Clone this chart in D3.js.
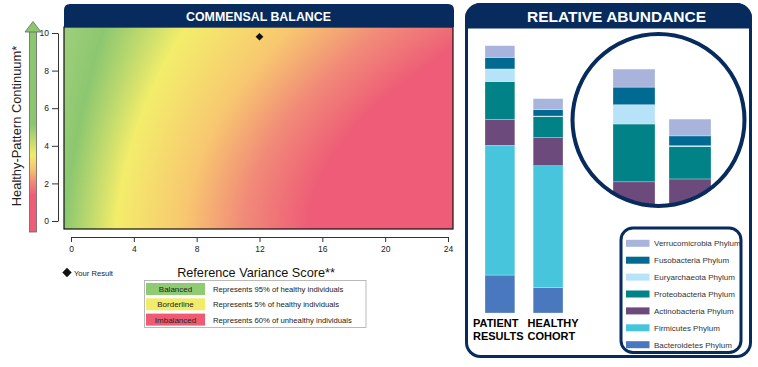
<!DOCTYPE html>
<html>
<head>
<meta charset="utf-8">
<script src="https://cdn.jsdelivr.net/npm/d3@7/dist/d3.min.js"></script>
<style>
  body { margin: 0; background: #fff; }
  text { font-family: Arial, "Liberation Sans", sans-serif; }
</style>
</head>
<body>
<svg id="chart" width="758" height="367"></svg>
<script>
// ---- data ----
const xTicks = [0, 4, 8, 12, 16, 20, 24];
const yTicks = [0, 2, 4, 6, 8, 10];
const resultScore = 12;
const resultContinuum = 9.8;

// background shading stops (balance value -> colour)
const balanceStops = [-2, 0, 3.3, 7.6, 11.4, 15.6];
const balanceColors = ['#a4d07c', '#8cc770', '#f3ed6b', '#f8c770', '#f18a78', '#ee5c77'];

const zoneNames = ['Balanced', 'Borderline', 'Imbalanced'];
const zoneColors = ['#8fcb72', '#f2ec6b', '#ef5b73'];
const zoneText = ['Represents 95% of healthy individuals',
                  'Represents 5% of healthy individuals',
                  'Represents 60% of unhealthy individuals'];

const groups = ['PATIENT RESULTS', 'HEALTHY COHORT'];
const phyla = ['Bacteroidetes Phylum', 'Firmicutes Phylum', 'Actinobacteria Phylum',
               'Proteobacteria Phylum', 'Euryarchaeota Phylum', 'Fusobacteria Phylum',
               'Verrucomicrobia Phylum'];
const phylaColors = ['#4a78be', '#47c5dc', '#6d4a7c', '#008286', '#b6e3f7', '#006a93', '#a9b4dc'];
const patient = [14.2, 48.5, 9.8, 14.1, 4.7, 4.3, 4.4];
const healthy = [9.6, 45.5, 10.5, 7.9, 0.2, 2.4, 4.1];

const navy = '#062b5c';
const svg = d3.select('#chart');

// ================= COMMENSAL BALANCE =================
const x = d3.scaleLinear().domain([0, 24]).range([71, 448]);
const y = d3.scaleLinear().domain([0, 10]).range([221, 33]);
const plot = {x0: 64, x1: 453, y0: 27, y1: 229};

const shade = d3.scaleLinear().domain(balanceStops).range(balanceColors).clamp(true);

// paint the shaded field pixel by pixel on a canvas, then drop it in as an image
// (bands bend to the right and widen towards the top of the continuum)
const cw = plot.x1 - plot.x0, ch = plot.y1 - plot.y0;
const canvas = document.createElement('canvas');
canvas.width = cw; canvas.height = ch;
const ctx = canvas.getContext('2d');
const img = ctx.createImageData(cw, ch);
for (let j = 0; j < ch; j++) {
  const c = y.invert(plot.y0 + j + 0.5);
  const shift = -0.4 + 0.12 * c + 0.012 * c * c;
  const stretch = 1 + 0.0054 * c * c;
  for (let i = 0; i < cw; i++) {
    const s = x.invert(plot.x0 + i + 0.5);
    const col = d3.rgb(shade((s - shift) / stretch));
    const k = (j * cw + i) * 4;
    img.data[k] = col.r; img.data[k + 1] = col.g; img.data[k + 2] = col.b; img.data[k + 3] = 255;
  }
}
ctx.putImageData(img, 0, 0);

svg.append('image')
    .attr('x', plot.x0).attr('y', plot.y0)
    .attr('width', cw).attr('height', ch)
    .attr('href', canvas.toDataURL());

svg.append('rect')
    .attr('x', plot.x0).attr('y', plot.y0)
    .attr('width', cw).attr('height', ch)
    .attr('fill', 'none').attr('stroke', '#111').attr('stroke-width', 1.2);

// header with rounded top corners
const hr = 6;
svg.append('path')
    .attr('d', `M${plot.x0},27 V${4 + hr} Q${plot.x0},4 ${plot.x0 + hr},4 H${plot.x1 + 1 - hr} Q${plot.x1 + 1},4 ${plot.x1 + 1},${4 + hr} V27 Z`)
    .attr('fill', navy);
svg.append('text')
    .attr('x', (plot.x0 + plot.x1) / 2).attr('y', 20.5)
    .attr('text-anchor', 'middle')
    .attr('fill', '#fff').attr('font-weight', 'bold').attr('font-size', 12.4)
    .text('COMMENSAL BALANCE');

// axes
const yAxis = svg.append('g')
    .attr('transform', 'translate(58,0)')
    .call(d3.axisLeft(y).tickValues(yTicks).tickSize(6).tickSizeOuter(0).tickPadding(3));
const xAxis = svg.append('g')
    .attr('transform', 'translate(0,237)')
    .call(d3.axisBottom(x).tickValues(xTicks).tickSize(5).tickSizeOuter(0).tickPadding(4));
[yAxis, xAxis].forEach(a => {
  a.selectAll('path, line').attr('stroke', '#333');
  a.selectAll('text').attr('font-size', 8.5).attr('fill', '#222')
      .attr('font-family', 'Arial, "Liberation Sans", sans-serif');
});

// result marker
svg.append('path')
    .attr('d', d3.symbol().type(d3.symbolDiamond2).size(38)())
    .attr('transform', `translate(${x(resultScore)},${y(resultContinuum)})`)
    .attr('fill', '#111');

// vertical colour bar with arrow
const defs = svg.append('defs');
const vg = defs.append('linearGradient').attr('id', 'vbar')
    .attr('x1', 0).attr('y1', 0).attr('x2', 0).attr('y2', 1);
[[0, '#8cc770'], [0.47, '#8cc770'], [0.62, '#f2ec6c'], [0.69, '#f7c26f'],
 [0.75, '#f08b79'], [0.82, '#ee5c77'], [1, '#ee5c77']]
  .forEach(([o, c]) => vg.append('stop').attr('offset', o).attr('stop-color', c));
svg.append('rect')
    .attr('x', 29.5).attr('y', 30).attr('width', 7).attr('height', 202)
    .attr('fill', 'url(#vbar)').attr('stroke', '#666').attr('stroke-width', 0.8);
svg.append('path')
    .attr('d', 'M25,32 L33,21.5 L41,32 Z')
    .attr('fill', '#8cc770').attr('stroke', '#666').attr('stroke-width', 0.8);

svg.append('text')
    .attr('transform', 'translate(20.5,126) rotate(-90)')
    .attr('text-anchor', 'middle')
    .attr('font-size', 12.9).attr('fill', '#222')
    .text('Healthy-Pattern Continuum*');

svg.append('text')
    .attr('x', 256).attr('y', 277)
    .attr('text-anchor', 'middle')
    .attr('font-size', 12.7).attr('fill', '#111')
    .text('Reference Variance Score**');

svg.append('path')
    .attr('d', d3.symbol().type(d3.symbolDiamond2).size(56)())
    .attr('transform', 'translate(67,272.5)')
    .attr('fill', '#111');
svg.append('text')
    .attr('x', 74).attr('y', 275.5)
    .attr('font-size', 7.6).attr('fill', '#222')
    .text('Your Result');

// zone legend
const zl = svg.append('g');
zl.append('rect')
    .attr('x', 144.5).attr('y', 280.5).attr('width', 221.5).attr('height', 47)
    .attr('fill', '#fff').attr('stroke', '#aaa').attr('stroke-width', 0.8);
const zoneRow = zl.selectAll('g.zone').data(zoneNames).join('g')
    .attr('class', 'zone')
    .attr('transform', (d, i) => `translate(146,${283 + i * 15.3})`);
zoneRow.append('rect')
    .attr('width', 59).attr('height', 12)
    .attr('fill', (d, i) => zoneColors[i]);
zoneRow.append('text')
    .attr('x', 29.5).attr('y', 9)
    .attr('text-anchor', 'middle')
    .attr('font-size', 8).attr('fill', '#222')
    .text(d => d);
zoneRow.append('text')
    .attr('x', 67).attr('y', 9)
    .attr('font-size', 7.7).attr('fill', '#222')
    .text((d, i) => zoneText[i]);

// ================= RELATIVE ABUNDANCE =================
const panel = {x0: 466.5, y0: 4.5, x1: 750.5, y1: 356.5, r: 14};
svg.append('rect')
    .attr('x', panel.x0).attr('y', panel.y0)
    .attr('width', panel.x1 - panel.x0).attr('height', panel.y1 - panel.y0)
    .attr('rx', panel.r)
    .attr('fill', '#fff').attr('stroke', navy).attr('stroke-width', 3);
svg.append('path')
    .attr('d', `M${panel.x0},27 V${panel.y0 + panel.r} A${panel.r},${panel.r} 0 0 1 ${panel.x0 + panel.r},${panel.y0} H${panel.x1 - panel.r} A${panel.r},${panel.r} 0 0 1 ${panel.x1},${panel.y0 + panel.r} V27 Z`)
    .attr('fill', navy).attr('stroke', navy).attr('stroke-width', 3);
svg.append('text')
    .attr('x', (panel.x0 + panel.x1) / 2 + 8).attr('y', 22)
    .attr('text-anchor', 'middle')
    .attr('fill', '#fff').attr('font-weight', 'bold').attr('font-size', 15.5)
    .text('RELATIVE ABUNDANCE');

const rows = groups.map((g, gi) => {
  const vals = gi === 0 ? patient : healthy;
  const r = {group: g};
  phyla.forEach((p, i) => r[p] = vals[i]);
  return r;
});
const color = d3.scaleOrdinal().domain(phyla).range(phylaColors);

// main stacked bars
const xb = d3.scaleBand().domain(groups).range([485, 563]).paddingInner(0.38);
const yb = d3.scaleLinear().domain([0, 100]).range([313, 45.7]);
const series = d3.stack().keys(phyla)(rows);
svg.append('g').selectAll('g').data(series).join('g')
    .attr('fill', d => color(d.key))
  .selectAll('rect').data(d => d).join('rect')
    .attr('x', d => xb(d.data.group))
    .attr('width', xb.bandwidth())
    .attr('y', d => yb(d[1]))
    .attr('height', d => yb(d[0]) - yb(d[1]))
    .attr('stroke', 'rgba(255,255,255,0.55)').attr('stroke-width', 0.5);

// group labels, two lines each
const labelX = [473, 527.5];
svg.append('g').selectAll('text').data(groups).join('text')
    .attr('x', (d, i) => labelX[i]).attr('y', 327)
    .attr('font-weight', 'bold').attr('font-size', 11).attr('fill', '#000')
    .each(function(d) {
      const [a, b] = d.split(' ');
      const t = d3.select(this);
      t.append('tspan').attr('x', t.attr('x')).text(a);
      t.append('tspan').attr('x', t.attr('x')).attr('dy', 12.5).text(b);
    });

// magnified view of the minor phyla inside the circle
const circ = {cx: 658.5, cy: 120, r: 86};
defs.append('clipPath').attr('id', 'lens')
  .append('circle').attr('cx', circ.cx).attr('cy', circ.cy).attr('r', circ.r);
const minor = phyla.slice(2);
const xz = d3.scaleBand().domain(groups).range([613, 711]).paddingInner(0.25);
const yz = d3.scaleLinear().domain([0, 40]).range([222, 58]);
const zSeries = d3.stack().keys(minor)(rows);
svg.append('g').attr('clip-path', 'url(#lens)')
  .selectAll('g').data(zSeries).join('g')
    .attr('fill', d => color(d.key))
  .selectAll('rect').data(d => d).join('rect')
    .attr('x', d => xz(d.data.group))
    .attr('width', xz.bandwidth())
    .attr('y', d => yz(d[1]))
    .attr('height', d => yz(d[0]) - yz(d[1]) + (d[0] === 0 ? 30 : 0))
    .attr('stroke', 'rgba(255,255,255,0.55)').attr('stroke-width', 0.5);
svg.append('circle')
    .attr('cx', circ.cx).attr('cy', circ.cy).attr('r', circ.r)
    .attr('fill', 'none').attr('stroke', navy).attr('stroke-width', 4);

// phylum legend
svg.append('rect')
    .attr('x', 621).attr('y', 228).attr('width', 120).attr('height', 124.5)
    .attr('rx', 12)
    .attr('fill', '#fff').attr('stroke', navy).attr('stroke-width', 3);
const legendOrder = phyla.slice().reverse();
const li = svg.append('g').selectAll('g').data(legendOrder).join('g')
    .attr('transform', (d, i) => `translate(626,${243.3 + i * 16.9})`);
li.append('rect')
    .attr('y', -3.5).attr('width', 23.5).attr('height', 7)
    .attr('fill', d => color(d));
li.append('text')
    .attr('x', 28).attr('y', 3)
    .attr('font-size', 8).attr('fill', '#333')
    .text(d => d);
</script>
</body>
</html>
